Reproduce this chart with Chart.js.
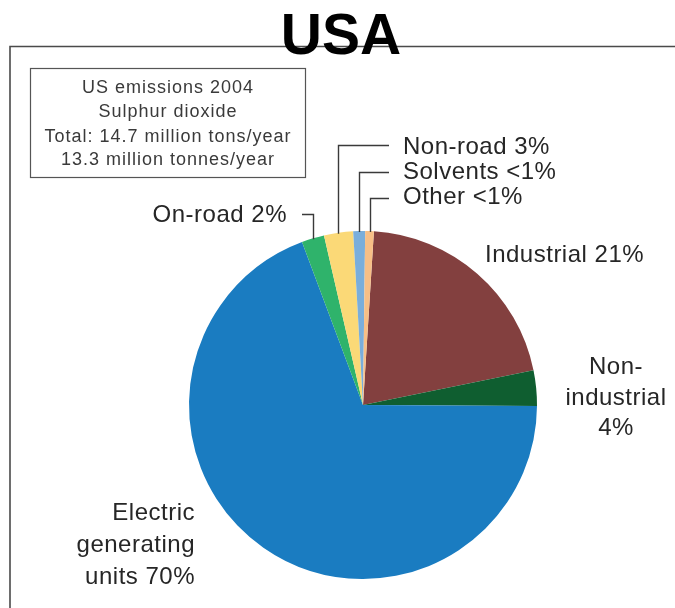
<!DOCTYPE html>
<html>
<head>
<meta charset="utf-8">
<script src="https://cdn.jsdelivr.net/npm/chart.js@4/dist/chart.umd.min.js"></script>
<style>
  html, body { margin: 0; padding: 0; background: #ffffff; }
  #wrap { position: relative; width: 675px; height: 608px; }
</style>
</head>
<body>
<div id="wrap"><canvas id="c" width="675" height="608"></canvas></div>
<script>
// ---- Data ----
const categories = ['Industrial', 'Non-industrial', 'Electric generating units', 'On-road', 'Non-road', 'Solvents', 'Other'];
const shares = [20.8, 3.3, 69.2, 2.1, 2.7, 1.1, 0.8];
const sliceColors = ['#83403f', '#0f5e30', '#1a7cc1', '#2fb36b', '#fbd977', '#7aaedb', '#f7bf86'];
const displayLabels = [
  ['Industrial 21%'],
  ['Non-', 'industrial', '4%'],
  ['Electric', 'generating', 'units 70%'],
  ['On-road 2%'],
  ['Non-road 3%'],
  ['Solvents <1%'],
  ['Other <1%']
];
const titleText = 'USA';
const boxLines = ['US emissions 2004', 'Sulphur dioxide', 'Total: 14.7 million tons/year', '13.3 million tonnes/year'];

const FONT = '"Liberation Sans", Arial, Helvetica, sans-serif';
const TEXT_COLOR = '#262626';

const decor = {
  id: 'decor',
  beforeDraw(chart) {
    const ctx = chart.ctx;
    ctx.save();
    // outer frame
    ctx.strokeStyle = '#4a4a4a';
    ctx.lineWidth = 1.6;
    ctx.beginPath();
    ctx.moveTo(10, 608);
    ctx.lineTo(10, 46.5);
    ctx.lineTo(675, 46.5);
    ctx.stroke();
    // info box
    ctx.lineWidth = 1.2;
    ctx.strokeStyle = '#555';
    ctx.strokeRect(30.5, 68.5, 275, 109);
    ctx.fillStyle = '#3a3a3a';
    ctx.font = '18px ' + FONT;
    try { ctx.letterSpacing = '1px'; } catch (e) {}
    ctx.textAlign = 'center';
    ctx.textBaseline = 'middle';
    const ys = [88, 112.5, 137, 160.5];
    boxLines.forEach((t, i) => ctx.fillText(t, 168, ys[i]));
    try { ctx.letterSpacing = '0px'; } catch (e) {}
    // title
    ctx.fillStyle = '#000';
    ctx.font = 'bold 57px ' + FONT;
    ctx.textAlign = 'center';
    ctx.textBaseline = 'alphabetic';
    ctx.fillText(titleText, 341, 54);
    ctx.restore();
  },
  afterDraw(chart) {
    const ctx = chart.ctx;
    const arcs = chart.getDatasetMeta(0).data;
    ctx.save();
    ctx.fillStyle = TEXT_COLOR;
    ctx.font = '24px ' + FONT;
    try { ctx.letterSpacing = '0.5px'; } catch (e) {}
    ctx.textBaseline = 'middle';

    const drawLines = (lines, x, ys, align) => {
      ctx.textAlign = align;
      lines.forEach((t, i) => ctx.fillText(t, x, ys[i]));
    };
    // Industrial
    drawLines(displayLabels[0], 485, [255], 'left');
    // Non-industrial
    drawLines(displayLabels[1], 616, [367, 398, 428], 'center');
    // Electric
    drawLines(displayLabels[2], 195, [513, 545, 577], 'right');
    // On-road
    drawLines(displayLabels[3], 287, [215], 'right');
    // Non-road / Solvents / Other
    drawLines(displayLabels[4], 403, [147], 'left');
    drawLines(displayLabels[5], 403, [172], 'left');
    drawLines(displayLabels[6], 403, [197], 'left');

    // leader lines from slice tops
    ctx.strokeStyle = '#3a3a3a';
    ctx.lineWidth = 1.4;
    const edgePoint = (a) => {
      const mid = (a.startAngle + a.endAngle) / 2;
      return { x: a.x + a.outerRadius * Math.cos(mid), y: a.y + a.outerRadius * Math.sin(mid) };
    };
    const leader = (idx, yLabel, xEnd) => {
      const p = edgePoint(arcs[idx]);
      const x = Math.round(p.x) + 0.5;
      ctx.beginPath();
      ctx.moveTo(x, p.y + 1);
      ctx.lineTo(x, yLabel);
      ctx.lineTo(xEnd, yLabel);
      ctx.stroke();
    };
    leader(3, 214.5, 302);
    leader(4, 145.5, 389);
    leader(5, 172.5, 389);
    leader(6, 198.5, 389);
    ctx.restore();
  }
};

new Chart(document.getElementById('c'), {
  type: 'pie',
  data: {
    labels: categories,
    datasets: [{
      data: shares,
      backgroundColor: sliceColors,
      borderWidth: 0
    }]
  },
  options: {
    responsive: false,
    animation: false,
    rotation: 3.6,
    layout: { padding: { left: 189, right: 138, top: 231, bottom: 29 } },
    plugins: {
      legend: { display: false },
      tooltip: { enabled: false },
      title: { display: false }
    }
  },
  plugins: [decor]
});
</script>
</body>
</html>
